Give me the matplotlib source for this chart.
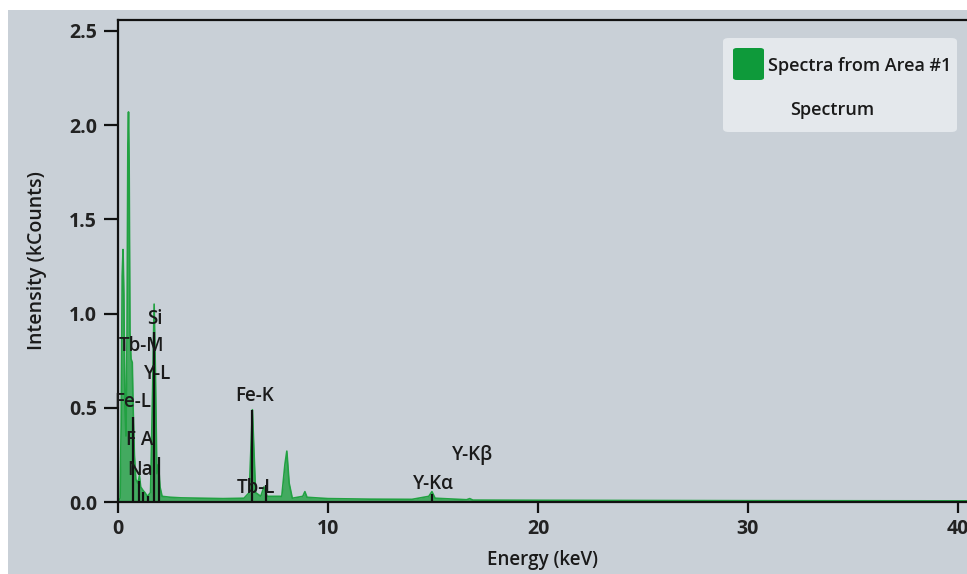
import numpy as np
import matplotlib
matplotlib.use("Agg")
import matplotlib.pyplot as plt
from matplotlib.patches import Rectangle, FancyBboxPatch

plt.rcParams['font.family'] = ['Open Sans', 'DejaVu Sans']

#--- spectrum (keV, kCounts)
energy = [0.0, 0.1, 0.15, 0.2, 0.24, 0.28, 0.33, 0.38, 0.43, 0.47, 0.5, 0.53,
          0.57, 0.62, 0.68, 0.72, 0.78, 0.85, 0.95, 1.02, 1.08, 1.2, 1.28, 1.4,
          1.55, 1.65, 1.72, 1.78, 1.85, 1.93, 2.0, 2.1, 2.5, 3.0, 4.0, 5.0, 6.0,
          6.25, 6.4, 6.55, 6.8, 6.95, 7.1, 7.8, 7.95, 8.04, 8.15, 8.3, 8.8, 8.9,
          9.0, 10.0, 12.0, 14.0, 14.8, 14.95, 15.1, 16.6, 16.75, 16.9, 20.0,
          30.0, 40.5]
counts = [0.0, 0.02, 0.4, 1.2, 1.34, 1.1, 0.5, 0.35, 0.9, 1.9, 2.07, 1.8,
          0.9, 0.76, 0.74, 0.5, 0.25, 0.12, 0.1, 0.14, 0.08, 0.06, 0.05, 0.03,
          0.05, 0.6, 1.05, 0.7, 0.15, 0.2, 0.08, 0.03, 0.025, 0.022, 0.02, 0.018, 0.02,
          0.05, 0.49, 0.05, 0.03, 0.08, 0.03, 0.03, 0.2, 0.27, 0.1, 0.02, 0.03, 0.055,
          0.025, 0.018, 0.015, 0.014, 0.03, 0.055, 0.02, 0.012, 0.018, 0.01, 0.009,
          0.007, 0.006]

#--- element marker lines
line_energy = [0.70, 1.01, 1.20, 1.41, 1.72, 1.97, 6.40, 7.03, 14.95]
line_height = [0.45, 0.11, 0.055, 0.03, 0.90, 0.24, 0.49, 0.09, 0.04]

#--- peak labels
label_text = ['Si', 'Tb-M', 'Y-L', 'Fe-L', 'F A', 'Na', 'Fe-K', 'Tb-L', 'Y-K\u03b1', 'Y-K\u03b2']
label_x = [1.76, 1.1, 1.9, 0.71, 1.05, 1.05, 6.52, 6.57, 15.0, 16.86]
label_y = [0.97, 0.83, 0.68, 0.53, 0.33, 0.17, 0.56, 0.075, 0.095, 0.25]

bg = '#c9d0d7'
green = '#22a142'

fig = plt.figure(figsize=(9.67, 5.74), dpi=100)
fig.patch.set_facecolor('white')
fig.patches.append(Rectangle((8 / 967, 0), 959 / 967, 564 / 574,
                             transform=fig.transFigure, facecolor=bg, edgecolor='none', zorder=-10))

ax = fig.add_axes([118 / 967, 72 / 574, 849 / 967, 482 / 574])
ax.set_facecolor(bg)

ax.fill_between(energy, counts, color=green, alpha=0.8, linewidth=0)
ax.plot(energy, counts, color=green, linewidth=1.2)
ax.vlines(line_energy, 0, line_height, color='#111111', linewidth=1.6)

for t, x, y in zip(label_text, label_x, label_y):
    ax.text(x, y, t, ha='center', va='center', fontsize=13.5, color='#1a1a1a', fontweight='semibold')

ax.set_xlim(0, 40.43)
ax.set_ylim(0, 2.558)
ax.set_xticks([0, 10, 20, 30, 40])
ax.set_yticks([0.0, 0.5, 1.0, 1.5, 2.0, 2.5])
ax.set_yticklabels(['0.0', '0.5', '1.0', '1.5', '2.0', '2.5'])

for s in ['left', 'bottom', 'top']:
    ax.spines[s].set_linewidth(1.6)
    ax.spines[s].set_color('#111111')
ax.spines['right'].set_visible(False)

ax.tick_params(axis='y', length=10, width=1.6, color='#111111', labelsize=14, labelcolor='#222222', pad=5)
ax.tick_params(axis='x', length=8, width=1.6, color='#111111', labelsize=14, labelcolor='#222222', pad=4)
for lab in ax.get_xticklabels() + ax.get_yticklabels():
    lab.set_fontweight('bold')

ax.set_xlabel('Energy (keV)', fontsize=13.5, color='#1a1a1a', fontweight='semibold', labelpad=8)
ax.set_ylabel('Intensity (kCounts)', fontsize=14, color='#1a1a1a', fontweight='semibold', labelpad=16)

#--- legend box
leg = FancyBboxPatch((723 / 967, 442 / 574), 234 / 967, 94 / 574, boxstyle='round,pad=0,rounding_size=0.006',
                     transform=fig.transFigure, facecolor='#e4e8ec', edgecolor='none', zorder=5)
fig.patches.append(leg)
sq = FancyBboxPatch((733 / 967, 494 / 574), 31 / 967, 32 / 574, boxstyle='round,pad=0,rounding_size=0.004',
                    transform=fig.transFigure, facecolor='#0e9a3a', edgecolor='none', zorder=6)
fig.patches.append(sq)
fig.text(768 / 967, 508 / 574, 'Spectra from Area #1', fontsize=13, fontweight='semibold',
         color='#1a1a1a', va='center', ha='left', zorder=7)
fig.text(832 / 967, 464 / 574, 'Spectrum', fontsize=13, fontweight='semibold',
         color='#1a1a1a', va='center', ha='center', zorder=7)

fig.savefig('out.png', dpi=100, facecolor=fig.get_facecolor())
